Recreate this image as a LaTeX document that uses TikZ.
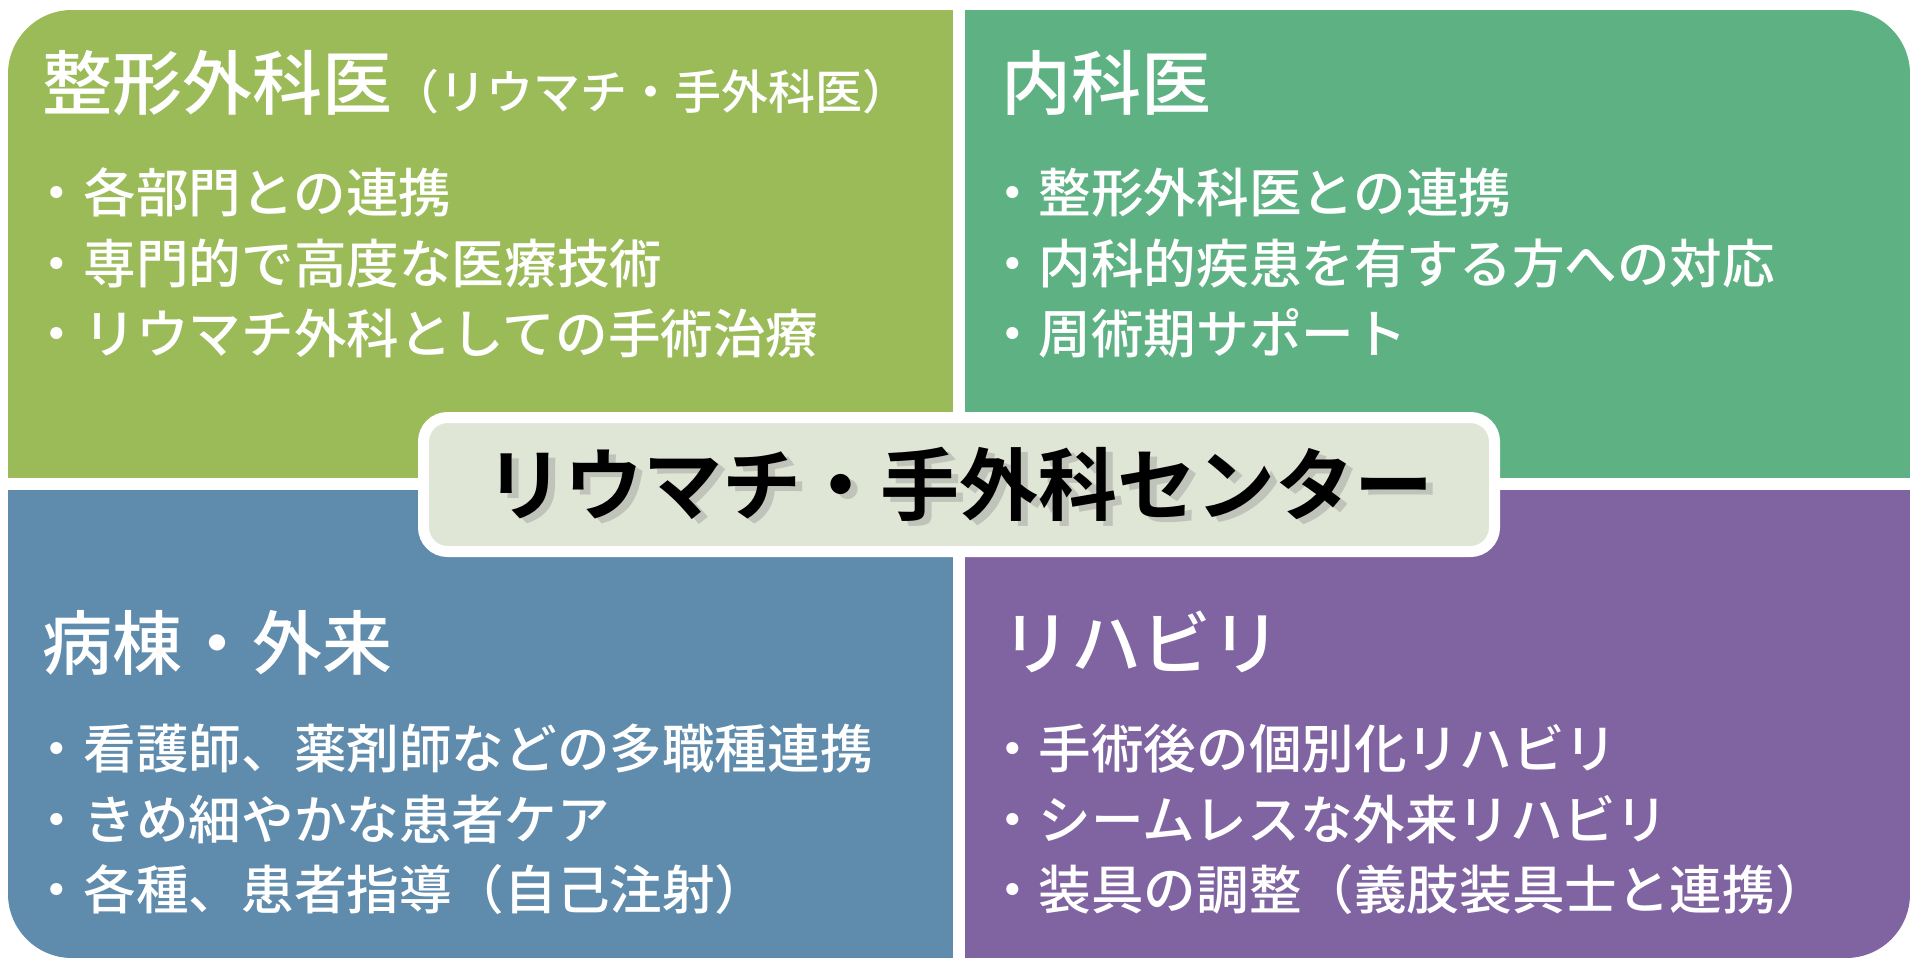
\documentclass[tikz,border=0pt]{standalone}
\usepackage{fontspec}
\usepackage{tikz}
\usetikzlibrary{positioning}
\newfontfamily\jp{Noto Sans CJK JP}[UprightFont={* Medium},BoldFont={* Bold}]
\definecolor{orthogreen}{HTML}{9BBB59}
\definecolor{medgreen}{HTML}{5DB182}
\definecolor{wardblue}{HTML}{5F8BAD}
\definecolor{rehabpurple}{HTML}{8064A2}
\definecolor{centrefill}{HTML}{DFE6D5}

\begin{document}
\begin{tikzpicture}[x=0.5pt, y=-0.5pt,
    every node/.style = {inner sep=0pt, outer sep=0pt},
    quad/.style = {rectangle, fill=#1, minimum width=472.5pt, minimum height=234pt},
    head/.style = {anchor=west, text=white, text height=30.8pt, text depth=4.2pt,
      font=\jp\fontsize{35}{42}\selectfont},
    item/.style = {text=white, text height=23.1pt, text depth=3.2pt,
      font=\jp\fontsize{26.3}{32}\selectfont},
    centrebox/.style = {rectangle, rounded corners=12pt, draw=white, line width=5.5pt,
      fill=centrefill, minimum width=535.5pt, minimum height=67pt},
    centretext/.style = {font=\jp\bfseries\fontsize{39.5}{46}\selectfont}
    ]
    \useasboundingbox (0,0) rectangle (1920,968);
    \begin{scope}
      \clip[rounded corners=32pt] (8,10) rectangle (1910,958);
      \node[quad=orthogreen] (q1) at (480.5,244) {};
      \node[quad=medgreen] (q2) at (1437.5,244) {};
      \node[quad=wardblue] (q3) at (480.5,724) {};
      \node[quad=rehabpurple] (q4) at (1437.5,724) {};
    \end{scope}

    % headings
    \node[head] (ortho) at (42,83) {整形外科医{\fontsize{23.5}{28}\selectfont（リウマチ・手外科医）}};
    \node[head] (internal) at (1001,83) {内科医};
    \node[head] (ward) at (42,643) {病棟・外来};
    \node[head] (rehab) at (1001,643) {リハビリ};

    \node[item] (ortho1) [below right=24pt and -5.5pt of ortho.south west] {・各部門との連携};
    \node[item] (ortho2) [below right=9.1pt and 0pt of ortho1.south west] {・専門的で高度な医療技術};
    \node[item] (ortho3) [below right=9.1pt and 0pt of ortho2.south west] {・リウマチ外科としての手術治療};

    \node[item] (internal1) [below right=24pt and -7.5pt of internal.south west] {・整形外科医との連携};
    \node[item] (internal2) [below right=9.1pt and 0pt of internal1.south west] {・内科的疾患を有する方への対応};
    \node[item] (internal3) [below right=9.1pt and 0pt of internal2.south west] {・周術期サポート};

    \node[item] (ward1) [below right=22pt and -5.5pt of ward.south west] {・看護師、薬剤師などの多職種連携};
    \node[item] (ward2) [below right=9.1pt and 0pt of ward1.south west] {・きめ細やかな患者ケア};
    \node[item] (ward3) [below right=9.1pt and 0pt of ward2.south west] {・各種、患者指導（自己注射）};

    \node[item] (rehab1) [below right=22pt and -7.5pt of rehab.south west] {・手術後の個別化リハビリ};
    \node[item] (rehab2) [below right=9.1pt and 0pt of rehab1.south west] {・シームレスな外来リハビリ};
    \node[item] (rehab3) [below right=9.1pt and 0pt of rehab2.south west] {・装具の調整（義肢装具士と連携）};

    % centre label
    \node[centrebox] (centre) at (959,484.5) {};
    \node[centretext, text=black!40, opacity=.45] (centreshade) at ([shift={(3.5pt,-2.5pt)}]centre) {リウマチ・手外科センター};
    \node[centretext] (centrelabel) at (centre) {リウマチ・手外科センター};
\end{tikzpicture}
\end{document}
